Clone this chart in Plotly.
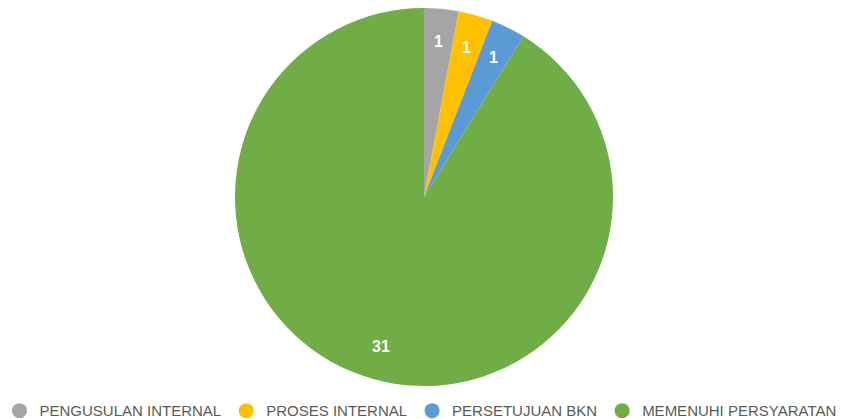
import math
import plotly.graph_objects as go

categories = ["PENGUSULAN INTERNAL", "PROSES INTERNAL", "PERSETUJUAN BKN", "MEMENUHI PERSYARATAN"]
values = [1, 1, 1, 31]
colors = ["#A5A5A5", "#FFC000", "#5B9BD5", "#70AD47"]

W, H = 841, 419
cx, cy, R = 424, 197, 189  # pixel geometry of the pie

dom_x = [(cx - R) / W, (cx + R) / W]
dom_y = [(H - (cy + R)) / H, (H - (cy - R)) / H]

fig = go.Figure()
fig.add_trace(go.Pie(
    labels=categories, values=values, sort=False, direction="clockwise", rotation=0,
    marker=dict(colors=colors, line=dict(width=0)),
    textinfo="none", hoverinfo="label+value", showlegend=False,
    domain=dict(x=dom_x, y=dom_y),
))

# legend entries with circular markers
for c, col in zip(categories, colors):
    fig.add_trace(go.Scatter(x=[None], y=[None], mode="markers", name=c,
                             marker=dict(color=col, size=15, symbol="circle")))

# value labels placed along each slice's mid-angle
total = sum(values)
cum = 0
annotations = []
for v in values:
    mid = (cum + v / 2) / total * 2 * math.pi
    cum += v
    r = 0.825 * R
    px = cx + r * math.sin(mid)
    py = cy - r * math.cos(mid)
    annotations.append(dict(x=px / W, y=1 - py / H, xref="paper", yref="paper",
                            xanchor="center", yanchor="middle",
                            text=f"<b>{v}</b>", showarrow=False,
                            font=dict(color="white", size=16, family="Liberation Sans, Arial")))

fig.update_layout(
    width=W, height=H,
    margin=dict(l=0, r=0, t=0, b=0, autoexpand=False),
    paper_bgcolor="white", plot_bgcolor="white",
    xaxis=dict(visible=False), yaxis=dict(visible=False),
    annotations=annotations,
    legend=dict(orientation="h", x=0.5, xanchor="center", y=-0.02, yanchor="bottom",
                font=dict(size=15, color="#595959", family="Liberation Sans, Arial"),
                itemwidth=30, bgcolor="rgba(0,0,0,0)"),
    font=dict(family="Liberation Sans, Arial"),
)

fig.write_html("out.html", config={"displayModeBar": False},
               post_script="document.body.style.margin='0';")
